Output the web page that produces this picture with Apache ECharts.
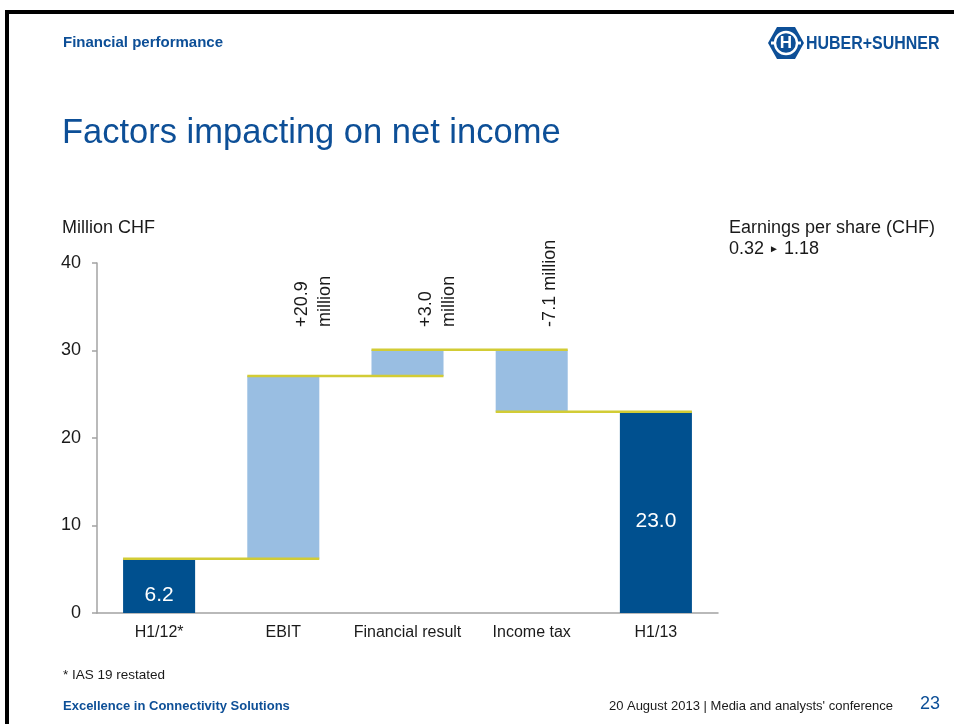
<!DOCTYPE html>
<html>
<head>
<meta charset="utf-8">
<title>Factors impacting on net income</title>
<script src="https://cdn.jsdelivr.net/npm/echarts@6/dist/echarts.min.js"></script>
<style>
  html, body { margin: 0; padding: 0; background: #ffffff; }
  #chart { width: 954px; height: 724px; }
</style>
</head>
<body>
<div id="chart"></div>
<script>
// ---- data ----
const categories = ['H1/12*', 'EBIT', 'Financial result', 'Income tax', 'H1/13'];
const startValue = 6.2;            // net income H1/12 (million CHF)
const changes = [20.9, 3.0, -7.1]; // EBIT, financial result, income tax
const endValue = 23.0;             // net income H1/13 (million CHF)
const yTicks = [0, 10, 20, 30, 40];
const epsFrom = '0.32';
const epsTo = '1.18';

// ---- styling ----
const FONT = '"Liberation Sans", Arial, Helvetica, sans-serif';
const DARK_BLUE = '#00508f';
const LIGHT_BLUE = '#99bee2';
const CONNECTOR = '#d2cc35';
const TEXT_BLUE = '#0d4f97';
const INK = '#1a1a1a';
const AXIS_GREY = '#a3a3a3';
const BAR_RATIO = 0.58;
const DELTA_LABEL_BASE = 32.7; // value level where the rotated change labels start

// running totals: level reached after each step
const levels = [startValue];
changes.forEach(c => levels.push(+(levels[levels.length - 1] + c).toFixed(1)));
levels.push(endValue);

// invisible base + visible segment per category
const baseData = [0];
const segData = [{ value: startValue, itemStyle: { color: DARK_BLUE } }];
changes.forEach((c, i) => {
  const before = levels[i], after = levels[i + 1];
  baseData.push(Math.min(before, after));
  segData.push({ value: Math.abs(c), itemStyle: { color: LIGHT_BLUE } });
});
baseData.push(0);
segData.push({ value: endValue, itemStyle: { color: DARK_BLUE } });

// connectors sit at each level, joining a bar to the next one
const connectorData = levels.slice(0, categories.length - 1).map((v, i) => [i, v]);
const lineBreaks = ['\n', '\n', ' '];
const deltaData = changes.map((c, i) => [i + 1, c]);
const deltaText = (c, i) => (c > 0 ? '+' : '') + c.toFixed(1) + lineBreaks[i] + 'million';

const chart = echarts.init(document.getElementById('chart'), null, { renderer: 'canvas' });

const option = {
  backgroundColor: '#ffffff',
  animation: false,
  textStyle: { fontFamily: FONT },
  grid: { left: 97, right: 236, top: 263, bottom: 111 },
  xAxis: {
    type: 'category',
    data: categories,
    axisLine: { lineStyle: { color: AXIS_GREY, width: 1.5 } },
    axisTick: { show: false },
    axisLabel: { interval: 0, color: INK, fontSize: 16, fontFamily: FONT, margin: 12 }
  },
  yAxis: {
    type: 'value',
    min: yTicks[0],
    max: yTicks[yTicks.length - 1],
    interval: yTicks[1] - yTicks[0],
    axisLine: { show: true, lineStyle: { color: AXIS_GREY, width: 1.5 } },
    axisTick: { show: true, length: 5, lineStyle: { color: AXIS_GREY, width: 1.5 } },
    splitLine: { show: false },
    axisLabel: { color: INK, fontSize: 18, fontFamily: FONT, margin: 16 }
  },
  series: [
    {
      name: 'base',
      type: 'bar',
      stack: 'wf',
      barWidth: (BAR_RATIO * 100) + '%',
      silent: true,
      itemStyle: { color: 'transparent' },
      data: baseData
    },
    {
      name: 'value',
      type: 'bar',
      stack: 'wf',
      barWidth: (BAR_RATIO * 100) + '%',
      data: segData,
      label: {
        show: true,
        position: 'inside',
        offset: [0, 9],
        color: '#ffffff',
        fontSize: 21,
        fontFamily: FONT,
        formatter: p => (p.dataIndex === 0 || p.dataIndex === categories.length - 1)
          ? p.value.toFixed(1) : ''
      }
    },
    {
      name: 'connectors',
      type: 'custom',
      z: 5,
      silent: true,
      data: connectorData,
      encode: { x: 0, y: 1 },
      renderItem: (params, api) => {
        const i = api.value(0), v = api.value(1);
        const p0 = api.coord([i, v]);
        const p1 = api.coord([i + 1, v]);
        const half = api.size([1, 0])[0] * BAR_RATIO / 2;
        return {
          type: 'line',
          shape: { x1: p0[0] - half, y1: p0[1], x2: p1[0] + half, y2: p1[1] },
          style: { stroke: CONNECTOR, lineWidth: 2.5 }
        };
      }
    },
    {
      name: 'changes',
      type: 'custom',
      z: 5,
      silent: true,
      data: deltaData,
      encode: { x: 0, y: 1 },
      renderItem: (params, api) => {
        const i = api.value(0);
        const c = api.value(1);
        const p = api.coord([i, DELTA_LABEL_BASE]);
        return {
          type: 'text',
          x: p[0] + 7,
          y: p[1],
          rotation: Math.PI / 2,
          style: {
            text: deltaText(c, params.dataIndex),
            fill: INK,
            font: '18px ' + FONT,
            lineHeight: 23,
            align: 'left',
            verticalAlign: 'top'
          }
        };
      }
    }
  ],
  graphic: [
    // slide frame
    { type: 'rect', shape: { x: 5, y: 10, width: 949, height: 4 }, style: { fill: '#000' } },
    { type: 'rect', shape: { x: 5, y: 10, width: 4, height: 714 }, style: { fill: '#000' } },
    // header
    { type: 'text', x: 63, y: 43, style: { text: 'Financial performance', font: 'bold 15px ' + FONT, fill: TEXT_BLUE, verticalAlign: 'middle' } },
    // company logo
    {
      type: 'group',
      children: [
        { type: 'polygon', shape: { points: [[768, 43], [777, 27], [795, 27], [804, 43], [795, 59], [777, 59]] }, style: { fill: TEXT_BLUE } },
        { type: 'circle', shape: { cx: 786, cy: 43, r: 11 }, style: { fill: 'none', stroke: '#ffffff', lineWidth: 2.4 } },
        { type: 'rect', shape: { x: 771, y: 41.5, width: 5, height: 3 }, style: { fill: '#ffffff' } },
        { type: 'rect', shape: { x: 796, y: 41.5, width: 5, height: 3 }, style: { fill: '#ffffff' } },
        { type: 'text', x: 786, y: 43.5, style: { text: 'H', font: 'bold 17px ' + FONT, fill: '#ffffff', align: 'center', verticalAlign: 'middle' } },
        { type: 'text', x: 806, y: 44, scaleX: 0.84, style: { text: 'HUBER+SUHNER', font: 'bold 19px ' + FONT, fill: TEXT_BLUE, verticalAlign: 'middle' } }
      ]
    },
    // title
    { type: 'text', x: 62, y: 133, style: { text: 'Factors impacting on net income', font: '34.5px ' + FONT, fill: TEXT_BLUE, verticalAlign: 'middle' } },
    // unit
    { type: 'text', x: 62, y: 228, style: { text: 'Million CHF', font: '18px ' + FONT, fill: INK, verticalAlign: 'middle' } },
    // earnings per share
    { type: 'text', x: 729, y: 228, style: { text: 'Earnings per share (CHF)', font: '18px ' + FONT, fill: INK, verticalAlign: 'middle' } },
    {
      type: 'text', x: 729, y: 249,
      style: {
        text: epsFrom + ' {t|►} ' + epsTo,
        font: '18px ' + FONT, fill: INK, verticalAlign: 'middle',
        rich: { t: { fontSize: 10, fontFamily: FONT, fill: INK, verticalAlign: 'middle' } }
      }
    },
    // footnote and footer
    { type: 'text', x: 63, y: 675, style: { text: '* IAS 19 restated', font: '13.5px ' + FONT, fill: INK, verticalAlign: 'middle' } },
    { type: 'text', x: 63, y: 706, style: { text: 'Excellence in Connectivity Solutions', font: 'bold 13px ' + FONT, fill: TEXT_BLUE, verticalAlign: 'middle' } },
    { type: 'text', x: 893, y: 706, style: { text: "20 August 2013 | Media and analysts' conference", font: '13px ' + FONT, fill: INK, align: 'right', verticalAlign: 'middle' } },
    { type: 'text', x: 940, y: 704, style: { text: '23', font: '18px ' + FONT, fill: TEXT_BLUE, align: 'right', verticalAlign: 'middle' } }
  ]
};

chart.setOption(option);
</script>
</body>
</html>
